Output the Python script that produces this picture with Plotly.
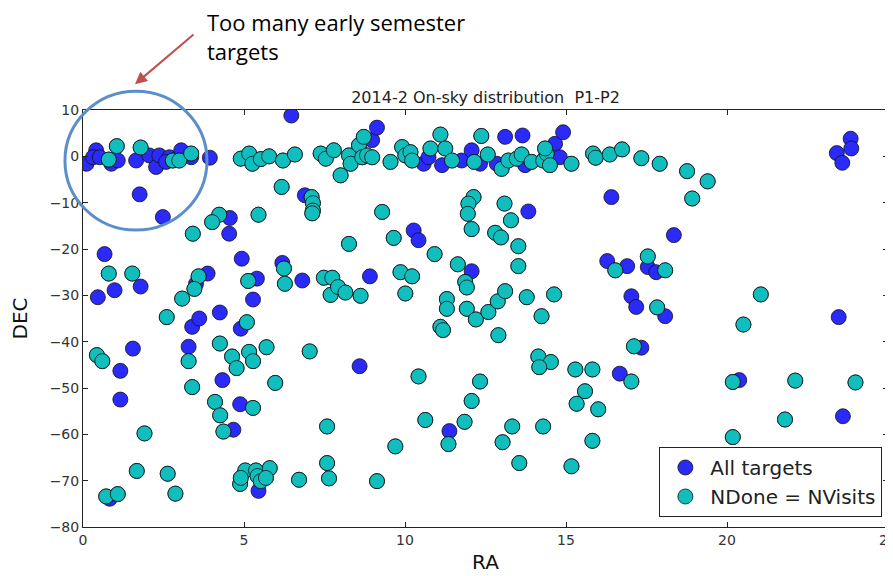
import plotly.graph_objects as go

# Targets not yet completed (visible blue markers)
ra_open = [0.11, 0.41, 0.31, 0.52, 0.88, 1.08, 1.65, 2.06, 2.27, 2.37, 2.68, 2.58, 3.05, 3.36, 3.94,
           1.76, 2.48, 6.47, 6.89, 4.56, 4.54, 8.98, 9.13, 10.58, 10.73, 11.15, 11.76, 12.07, 12.33,
           12.85, 13.11, 13.65, 13.73, 14.66, 14.91, 14.81, 10.27, 10.42, 13.83, 16.41, 18.35, 23.84,
           23.86, 23.41, 23.58, 0.67, 0.46, 0.98, 1.79, 3.39, 3.61, 3.87, 3.51, 4.25, 4.90, 4.93, 5.28,
           5.40, 6.19, 6.81, 1.55, 1.16, 3.28, 4.33, 12.07, 8.91, 16.28, 8.59, 16.90, 17.54, 17.80,
           17.03, 17.18, 18.08, 23.47, 17.34, 16.67, 20.38, 1.16, 4.88, 4.67, 0.83, 5.45, 11.38, 23.60]
dec_open = [-1.6, 1.3, -0.2, -0.2, -1.6, -0.9, -0.9, 0.2, -2.3, 0.2, -0.2, -1.2, 1.3, -0.2, -0.3,
            -8.2, -13.1, 8.8, -8.4, -13.3, -16.7, 3.5, 6.2, -1.6, -0.2, -1.9, -0.9, 1.3, -1.6,
            -1.6, 4.2, 4.5, -1.9, 2.7, 5.2, -0.2, -16.0, -18.1, -11.9, -8.8, -17.0, 3.8,
            1.7, 0.7, -1.4, -21.1, -30.4, -28.9, -28.1, -36.8, -35.0, -25.3, -27.5, -33.7, -37.2, -22.1, -30.9,
            -26.4, -23.0, -26.8, -41.5, -46.3, -41.1, -48.3, -24.8, -25.9, -22.6, -45.3, -23.7, -23.9, -25.0,
            -30.2, -32.5, -34.5, -34.7, -41.3, -46.9, -48.3, -52.5, -53.5, -59.0, -73.9, -72.2, -59.3, -56.1]

# Targets with NDone = NVisits (cyan markers)
ra_done = [0.80, 1.05, 1.79, 2.79, 2.99, 3.36, 4.90, 5.16, 5.26, 5.52, 5.78, 6.21, 6.58, 7.38, 7.54,
           7.79, 6.17, 7.10, 7.14, 7.14, 7.12, 4.23, 4.01, 5.45, 3.41, 8.00, 8.26, 8.31, 8.57, 8.72,
           8.67, 8.82, 8.98, 9.55, 9.91, 10.01, 10.17, 10.22, 10.79, 11.10, 11.25, 11.46, 12.15, 12.37,
           12.57, 13.00, 13.21, 13.47, 13.62, 13.93, 14.29, 14.40, 14.35, 14.50, 15.17, 15.84, 15.92,
           16.36, 16.74, 17.34, 17.91, 18.76, 19.40, 18.92, 9.29, 9.65, 8.26, 12.13, 11.97, 11.95,
           12.07, 13.09, 13.29, 12.80, 12.98, 13.52, 0.80, 1.53, 2.60, 3.08, 3.59, 3.46, 5.09, 5.13,
           6.24, 6.27, 7.48, 7.74, 7.69, 7.92, 8.15, 8.62, 0.43, 0.60, 3.28, 4.25, 4.63, 4.77, 5.16,
           5.28, 5.70, 7.04, 10.92, 11.64, 13.52, 11.87, 11.92, 9.86, 10.22, 10.01, 11.30, 11.30,
           11.92, 12.20, 12.59, 12.88, 13.11, 13.78, 14.63, 14.24, 11.10, 11.18, 12.90, 10.42, 12.33,
           14.14, 14.53, 14.17, 15.29, 15.82, 16.53, 17.54, 18.08, 17.83, 21.05, 20.51, 17.11, 17.03,
           20.18, 22.12, 23.99, 3.39, 5.97, 4.10, 4.26, 5.28, 4.36, 1.91, 7.58, 7.58, 7.64, 1.67,
           2.63, 2.87, 0.72, 1.08, 4.88, 5.04, 5.37, 5.80, 5.42, 5.52, 5.68, 4.90, 6.71, 12.07, 11.85,
           10.63, 11.35, 9.70, 9.13, 13.03, 13.33, 13.55, 14.29, 15.17, 15.33, 15.59, 16.00, 15.82,
           21.80, 20.18]
dec_done = [-0.7, 2.2, 1.9, -0.9, -0.9, 0.6, -0.5, 0.6, -1.6, -0.6, 0.0, -0.9, 0.4, 0.6, -0.5,
            1.3, -6.6, -8.8, -10.1, -11.7, -12.3, -12.6, -14.2, -12.6, -16.7, -4.1, 0.2, -1.6, 2.4, 4.2,
            -0.2, 0.2, -0.2, -1.2, 2.0, 0.2, 0.9, -0.9, 1.7, 4.7, 1.7, -0.9, -1.2, 4.4,
            0.4, -2.7, -0.9, -0.5, 0.4, -1.2, -0.9, 0.6, 1.7, -1.9, -1.6, 0.6, -0.3,
            0.4, 1.5, -0.4, -1.6, -3.2, -5.4, -9.1, -12.0, -17.6, -18.9, -8.8, -10.2, -12.4,
            -15.7, -10.2, -13.8, -16.5, -17.5, -19.4, -25.3, -25.3, -34.7, -30.7, -25.9, -28.6, -35.8, -26.9,
            -24.2, -27.5, -26.2, -26.2, -29.9, -28.2, -29.4, -30.1, -42.9, -44.2, -44.2, -40.4, -43.2, -45.7, -42.2,
            -44.2, -41.2, -42.1, -21.1, -23.3, -23.7, -27.1, -28.3, -25.0, -25.9, -29.6, -30.8, -32.9,
            -32.9, -35.2, -33.6, -31.3, -29.1, -30.4, -29.8, -34.5, -36.8, -37.5, -38.6, -47.5, -48.6,
            -43.2, -44.4, -45.5, -46.0, -46.0, -24.6, -21.6, -24.6, -32.6, -29.8, -36.3, -41.0, -48.6,
            -48.7, -48.4, -48.8, -49.8, -48.9, -53.0, -55.9, -54.3, -59.4, -59.8, -58.3, -66.2, -69.5, -67.9,
            -68.5, -72.8, -73.4, -72.9, -70.7, -67.8, -67.8, -67.3, -69.0, -70.1, -69.4, -69.4, -69.8, -52.8, -57.3,
            -56.9, -62.1, -62.6, -70.1, -61.7, -58.3, -66.2, -58.3, -66.9, -53.4, -50.7, -54.6, -61.4,
            -56.8, -60.6]

# "All targets" includes the completed ones as well
ra_all = ra_open + ra_done
dec_all = dec_open + dec_done

x_ticks = [0, 5, 10, 15, 20, 25]
y_ticks = [10, 0, -10, -20, -30, -40, -50, -60, -70, -80]

FONT = "DejaVu Sans"
W, H = 885, 568  # page body has an 8px margin

fig = go.Figure()
fig.add_trace(go.Scatter(
    x=ra_all, y=dec_all, mode="markers", name="All targets",
    marker=dict(size=15, color="#2a2afa", line=dict(color="#111", width=0.8)),
))
fig.add_trace(go.Scatter(
    x=ra_done, y=dec_done, mode="markers", name="NDone = NVisits",
    marker=dict(size=15, color="#10bfbd", line=dict(color="#111", width=0.8)),
))

axis_common = dict(
    showline=True, linecolor="#222", linewidth=1, mirror="ticks",
    ticks="inside", ticklen=5, tickcolor="#222", showgrid=False, zeroline=False,
    tickfont=dict(family=FONT, size=14, color="#333"), ticklabeloverflow="allow",
)

fig.update_layout(
    width=W, height=H,
    paper_bgcolor="white", plot_bgcolor="white",
    margin=dict(l=75, r=5, t=102, b=49),
    showlegend=True,
    title=dict(text="2014-2 On-sky distribution\u00a0\u00a0P1-P2",
               font=dict(family=FONT, size=16, color="#222"),
               x=(75 + 880) / 2 / W, xanchor="center",
               yref="container", y=1 - 89 / H, yanchor="middle"),
    xaxis=dict(range=[0, 25], tickvals=x_ticks, automargin=False,
               title=dict(text="RA", font=dict(family=FONT, size=20, color="#111"), standoff=8),
               **axis_common),
    yaxis=dict(range=[-80, 10], tickvals=y_ticks, automargin=False,
               title=dict(text="DEC", font=dict(family=FONT, size=20, color="#111"), standoff=16),
               **axis_common),
    legend=dict(x=0.993, xanchor="right", y=0.024, yanchor="bottom",
                bgcolor="white", bordercolor="#222", borderwidth=1,
                font=dict(family=FONT, size=20, color="#222"),
                itemwidth=40),
)

# Highlight circle and callout
fig.add_shape(type="circle", xref="paper", yref="paper",
              x0=-0.0224, x1=0.154, y0=0.712, y1=1.045,
              line=dict(color="#5b8fc9", width=3))
fig.add_annotation(xref="paper", yref="paper", x=0.0646, y=1.062,
                   ax=60, ay=-51, showarrow=True, arrowhead=2, arrowsize=1.2,
                   arrowwidth=2, arrowcolor="#c0504d", text="")
fig.add_annotation(xref="paper", yref="paper", x=0.1516, y=1.0 + (110 - 5) / 417,
                   xanchor="left", yanchor="top", align="left", showarrow=False,
                   text="Too many early semester<br>targets",
                   font=dict(family="Open Sans", size=22, color="#000"))

fig.write_html("out.html")
